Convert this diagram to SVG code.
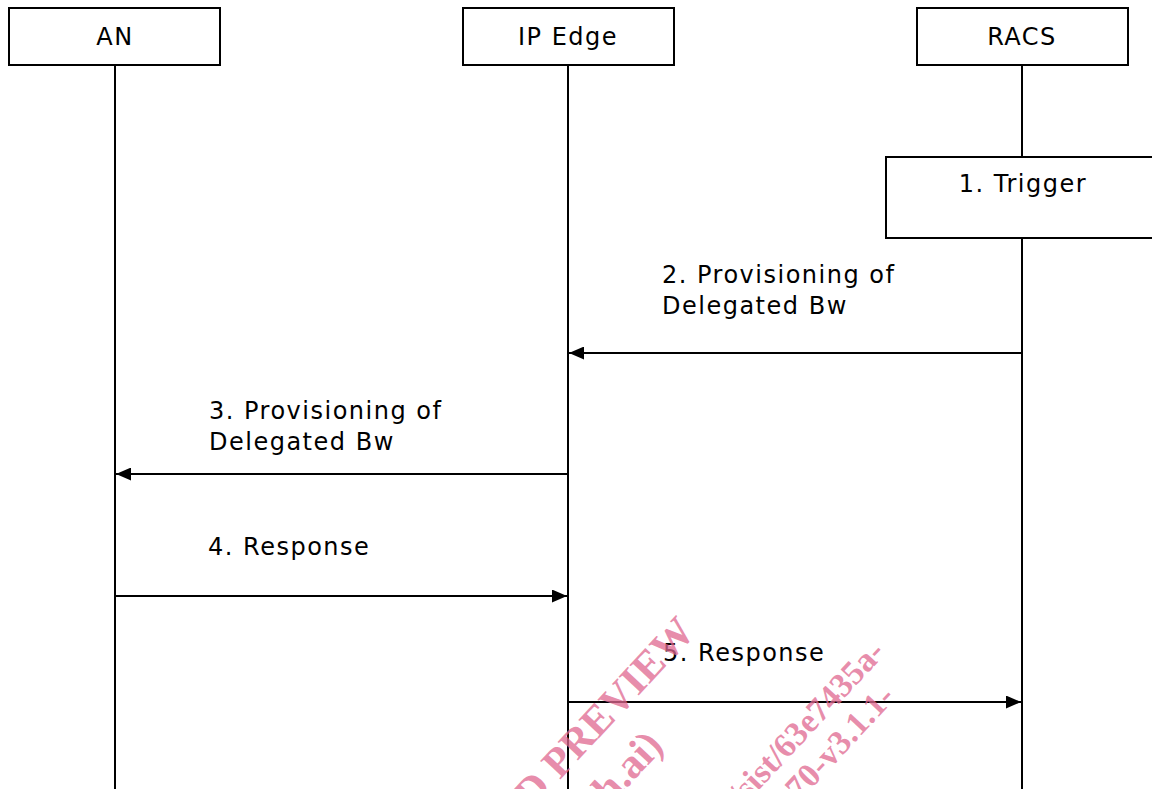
<svg xmlns="http://www.w3.org/2000/svg" width="1152" height="789" viewBox="0 0 1152 789">
<defs>
<style>
.box{fill:#fff;stroke:#000;stroke-width:2}
.life{stroke:#000;stroke-width:2;fill:none}
.msg{stroke:#000;stroke-width:2;fill:none;marker-end:url(#ah)}
.t{font-family:"DejaVu Sans",Verdana,sans-serif;font-size:24px;letter-spacing:1.5px;fill:#000}
.c{text-anchor:middle}
.wm{font-family:"Liberation Serif","Times New Roman",serif;font-weight:bold;font-size:42px;fill:#e06890;fill-opacity:0.75}
.wm2{font-size:34px}
</style>
<marker id="ah" markerWidth="15" markerHeight="13" refX="15" refY="6.5" orient="auto" markerUnits="userSpaceOnUse">
<path d="M0,0 L15,6.5 L0,13 Z" fill="#000"/>
</marker>
</defs>
<rect width="1152" height="789" fill="#fff"/>
<g id="lifelines">
<line class="life" x1="115" y1="65" x2="115" y2="789"/>
<line class="life" x1="568" y1="65" x2="568" y2="789"/>
<line class="life" x1="1022" y1="65" x2="1022" y2="789"/>
</g>
<g id="node-an">
<rect class="box" x="9" y="8" width="211" height="57"/>
<text class="t c" x="115" y="45">AN</text>
</g>
<g id="node-ipedge">
<rect class="box" x="463" y="8" width="211" height="57"/>
<text class="t c" x="568" y="45">IP Edge</text>
</g>
<g id="node-racs">
<rect class="box" x="917" y="8" width="211" height="57"/>
<text class="t c" x="1022" y="45">RACS</text>
</g>
<g id="node-trigger">
<rect class="box" x="886" y="157" width="274" height="81"/>
<text class="t c" x="1023" y="192">1. Trigger</text>
</g>
<g id="connectors">
<line class="msg" x1="1022" y1="353" x2="569" y2="353"/>
<line class="msg" x1="568" y1="474" x2="116" y2="474"/>
<line class="msg" x1="115" y1="596" x2="567" y2="596"/>
<line class="msg" x1="568" y1="702" x2="1021" y2="702"/>
</g>
<g id="labels">
<text class="t" x="662" y="283">2. Provisioning of</text>
<text class="t" x="662" y="314">Delegated Bw</text>
<text class="t" x="209" y="419">3. Provisioning of</text>
<text class="t" x="209" y="450">Delegated Bw</text>
<text class="t" x="208" y="555">4. Response</text>
<text class="t" x="663" y="661">5. Response</text>
</g>
<g id="watermark">
<text class="wm" transform="translate(532,810) rotate(-47)">D PREVIEW</text>
<text class="wm" transform="translate(610,806) rotate(-47)">h.ai)</text>
<text class="wm wm2" transform="translate(742,808) rotate(-47)">/sist/63e7435a-</text>
<text class="wm wm2" transform="translate(788,814) rotate(-47)">970-v3.1.1-</text>
</g>
</svg>
